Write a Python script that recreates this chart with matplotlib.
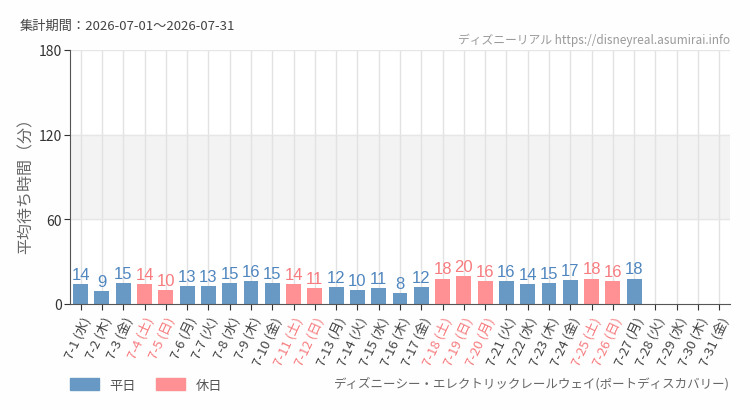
import matplotlib
matplotlib.use("Agg")
import matplotlib.pyplot as plt
from matplotlib.patches import Patch
from matplotlib import font_manager

plt.rcParams['font.family'] = ['Noto Sans CJK JP', 'DejaVu Sans']

dates = [f"7-{d}" for d in range(1, 32)]
weekdays = ["水","木","金","土","日","月","火","水","木","金","土","日","月","火","水","木","金",
            "土","日","月","火","水","木","金","土","日","月","火","水","木","金"]
values = [14, 9, 15, 14, 10, 13, 13, 15, 16, 15, 14, 11, 12, 10, 11, 8, 12,
          18, 20, 16, 16, 14, 15, 17, 18, 16, 18, None, None, None, None]
holidays = ["7-4", "7-5", "7-11", "7-12", "7-18", "7-19", "7-20", "7-25", "7-26"]
yticks = [0, 60, 120, 180]

BLUE = "#6898c4"
PINK = "#ff9194"
BLUE_TXT = "#4f86bf"
PINK_TXT = "#f77b7f"

names = {f.name for f in font_manager.fontManager.ttflist}
narrow = 'Liberation Sans Narrow' if 'Liberation Sans Narrow' in names else 'Liberation Sans'

fig = plt.figure(figsize=(7.5, 4.1), dpi=100)
fig.patch.set_facecolor("#fdfefd")
ax = fig.add_axes([70/750, 1-305/410, 660/750, 254/410])
ax.set_facecolor("white")

ax.axhspan(60, 120, color="#f3f3f3", zorder=0)
n = len(dates)
for i in range(n):
    ax.axvline(i, color="#e2e2e2", lw=1, zorder=0.5)
for y in [60, 120, 180]:
    ax.axhline(y, color="#e6e6e6", lw=1, zorder=0.5)

for i, (d, v) in enumerate(zip(dates, values)):
    if v is None:
        continue
    hol = d in holidays
    ax.bar(i, v, width=0.7, color=PINK if hol else BLUE, zorder=2)
    ax.text(i, v + 1.5, str(v), ha="center", va="bottom", fontsize=12,
            color=PINK_TXT if hol else BLUE_TXT, family=[narrow, 'DejaVu Sans'], zorder=3)

ax.set_xlim(-0.5, n - 0.5)
ax.set_ylim(0, 180)
ax.set_yticks(yticks)
ax.set_yticklabels([str(t) for t in yticks], fontsize=10, color="#333333")
ax.set_xticks(range(n))
labels = [f"{d} ({w})" for d, w in zip(dates, weekdays)]
ax.set_xticklabels(labels, rotation=65, ha="right", rotation_mode="anchor", fontsize=9.5)
for lbl, d in zip(ax.get_xticklabels(), dates):
    lbl.set_color(PINK_TXT if d in holidays else "#444444")
ax.tick_params(axis="x", length=4, color="#333333")
ax.tick_params(axis="y", length=4, pad=2, color="#333333")
for s in ["top", "right"]:
    ax.spines[s].set_visible(False)
ax.spines["left"].set_color("#555555")
ax.spines["bottom"].set_color("#555555")

fig.text(26/750, 1-182/410, "平均待ち時間（分）", rotation=90, fontsize=11.5, color="#666666",
         ha="center", va="center")

fig.text(20/750, 1-26/410, "集計期間：2026-07-01〜2026-07-31", fontsize=9.5, color="#444444", va="center")
fig.text(730/750, 1-40/410, "ディズニーリアル https://disneyreal.asumirai.info", fontsize=8.5,
         color="#999999", ha="right", va="center", family=['Noto Sans CJK JP', 'DejaVu Sans'])
fig.text(730/750, 1-384/410, "ディズニーシー・エレクトリックレールウェイ(ポートディスカバリー)", fontsize=9,
         color="#666666", ha="right", va="center")

handles = [Patch(color=BLUE, label="平日"), Patch(color=PINK, label="休日")]
fig.legend(handles=handles, loc="center left", bbox_to_anchor=(58/750, 1-386/410), ncol=2,
           frameon=False, fontsize=9.5, handlelength=2.2, handleheight=1.0, columnspacing=1.5,
           labelcolor="#555555")

fig.savefig("out.png", dpi=100, facecolor=fig.get_facecolor())
